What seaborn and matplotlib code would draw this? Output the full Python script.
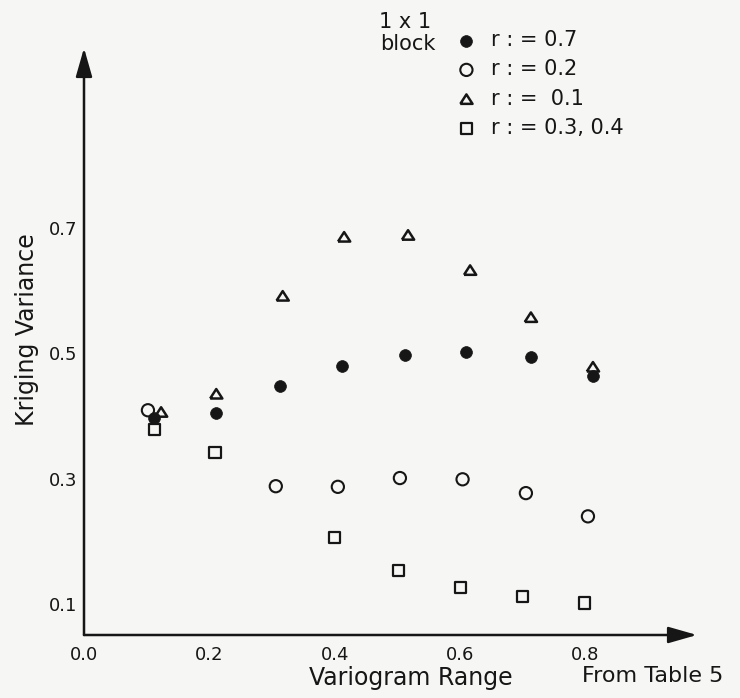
import pandas as pd
import matplotlib.pyplot as plt
import seaborn as sns

# Values (variogram range vs. kriging variance)
range_r07 = [0.112, 0.211, 0.313, 0.411, 0.512, 0.609, 0.713, 0.812]
var_r07 = [0.396, 0.404, 0.447, 0.479, 0.497, 0.502, 0.494, 0.463]

range_r02 = [0.102, 0.306, 0.405, 0.504, 0.604, 0.705, 0.804]
var_r02 = [0.409, 0.288, 0.287, 0.301, 0.299, 0.277, 0.240]

range_r01 = [0.123, 0.211, 0.317, 0.415, 0.517, 0.616, 0.713, 0.812]
var_r01 = [0.406, 0.435, 0.591, 0.685, 0.688, 0.632, 0.557, 0.478]

range_r034 = [0.112, 0.209, 0.400, 0.502, 0.601, 0.700, 0.799]
var_r034 = [0.379, 0.341, 0.207, 0.154, 0.127, 0.113, 0.102]

series_labels = ['r : = 0.7', 'r : = 0.2', 'r : =  0.1', 'r : = 0.3, 0.4']
x_ticks = [0.0, 0.2, 0.4, 0.6, 0.8]
y_ticks = [0.1, 0.3, 0.5, 0.7]

ink = '#161616'
paper = '#f6f6f4'

sns.set_style('white')
plt.rcParams['font.family'] = ['DejaVu Sans']

fig = plt.figure(figsize=(7.4, 6.98), dpi=100, facecolor=paper)
ax = fig.add_axes([84 / 740, 63 / 698, 613 / 740, 587 / 698])
ax.set_facecolor(paper)

# marker style per series (filled dot, open circle, open triangle, open square)
styles = [
    dict(marker='o', s=8.5 ** 2, facecolor=ink, edgecolor=ink, linewidth=0.5),
    dict(marker='o', s=8.8 ** 2, facecolor='none', edgecolor=ink, linewidth=1.5),
    dict(marker=[(-1, -0.75), (1, -0.75), (0, 0.8), (-1, -0.75)], s=8.8 ** 2,
         facecolor='none', edgecolor=ink, linewidth=1.8),
    dict(marker='s', s=8.0 ** 2, facecolor='none', edgecolor=ink, linewidth=1.6),
]
xs = [range_r07, range_r02, range_r01, range_r034]
ys = [var_r07, var_r02, var_r01, var_r034]

for x, y, lab, st in zip(xs, ys, series_labels, styles):
    df = pd.DataFrame({'range': x, 'variance': y})
    sns.scatterplot(data=df, x='range', y='variance', label=lab, ax=ax,
                    clip_on=False, zorder=3, **st)

ax.set_xlim(0, 0.978)
ax.set_ylim(0.051, 0.986)
ax.set_xticks(x_ticks)
ax.set_xticklabels([f'{v:.1f}' for v in x_ticks])
ax.set_yticks(y_ticks)
ax.set_yticklabels([f'{v:.1f}' for v in y_ticks])
ax.tick_params(direction='in', length=10, width=1.5, color=ink,
               labelsize=13, labelcolor=ink)
ax.tick_params(axis='x', pad=8)
ax.tick_params(axis='y', pad=5)

for side in ['top', 'right', 'left', 'bottom']:
    ax.spines[side].set_visible(False)

# axes drawn as arrows
arrow = dict(arrowstyle='-|>,head_length=0.7,head_width=0.2', color=ink,
             lw=1.8, mutation_scale=25, shrinkA=0, shrinkB=0)
ax.annotate('', xy=(1, 0), xytext=(0, 0), xycoords='axes fraction',
            arrowprops=arrow, annotation_clip=False)
ax.annotate('', xy=(0, 1), xytext=(0, 0), xycoords='axes fraction',
            arrowprops=arrow, annotation_clip=False)

ax.set_xlabel('Variogram Range', fontsize=17, color=ink)
ax.xaxis.label.set_va('center')
ax.xaxis.set_label_coords(0.533, -0.073)
ax.set_ylabel('Kriging Variance', fontsize=17, color=ink)
ax.yaxis.label.set_va('center')
ax.yaxis.set_label_coords(-0.093, 0.521)
ax.text(0.927, -0.070, 'From Table 5', transform=ax.transAxes, fontsize=16,
        color=ink, ha='center', va='center')

leg = ax.legend(loc='upper left', bbox_to_anchor=(456 / 740, 1 - 30 / 698),
                bbox_transform=fig.transFigure, frameon=False, fontsize=15,
                borderpad=0, handlelength=1.0, handletextpad=0.7,
                labelspacing=0.45, borderaxespad=0)
for t in leg.get_texts():
    t.set_color(ink)

fig.text(405 / 740, 1 - 22 / 698, '1 x 1', fontsize=15, color=ink,
         ha='center', va='center')
fig.text(408 / 740, 1 - 44 / 698, 'block', fontsize=15, color=ink,
         ha='center', va='center')

fig.savefig('out.png', dpi=100, facecolor=paper)
